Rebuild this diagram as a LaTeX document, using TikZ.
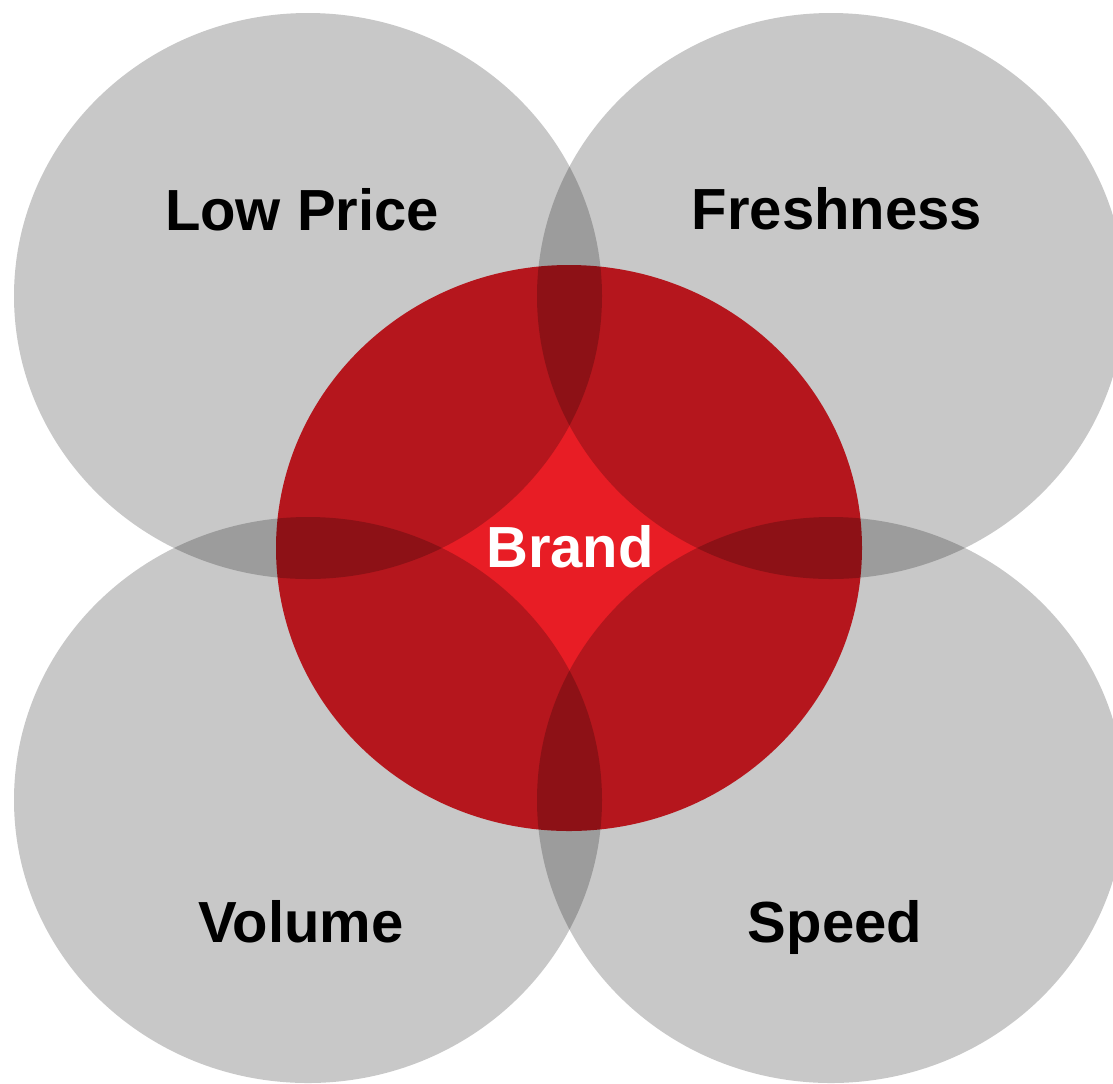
\documentclass[tikz,border=0pt]{standalone}
\usepackage{fontspec}
\setmainfont{Liberation Sans}
\definecolor{brandred}{RGB}{232,29,37}
\begin{document}
\begin{tikzpicture}[x=0.5pt,y=-0.5pt,
  graycirc/.style={fill=black,fill opacity=0.215},
  lbl/.style={anchor=base,inner sep=0pt,font=\fontsize{29}{35}\selectfont\bfseries,text=black},
  brandlbl/.style={lbl,text=white}]
\useasboundingbox (0,0) rectangle (1113,1083);
\fill[white] (0,0) rectangle (1113,1083);
\begin{scope}
\clip (0,0) rectangle (1113,1083);
\fill[brandred] (569,548) ellipse [x radius=146.5pt, y radius=141.5pt];
\fill[graycirc] (308,296) ellipse [x radius=147pt, y radius=141.5pt];
\fill[graycirc] (831,296) ellipse [x radius=147pt, y radius=141.5pt];
\fill[graycirc] (308,800) ellipse [x radius=147pt, y radius=141.5pt];
\fill[graycirc] (831,800) ellipse [x radius=147pt, y radius=141.5pt];
\end{scope}
\node[lbl] (lowprice) at (302,230) {Low Price};
\node[lbl] (freshness) at (837,229) {Freshness};
\node[lbl] (volume) at (301,942) {Volume};
\node[lbl] (speed) at (835,942) {Speed};
\node[brandlbl] (brand) at (570,567) {Brand};
\end{tikzpicture}
\end{document}
